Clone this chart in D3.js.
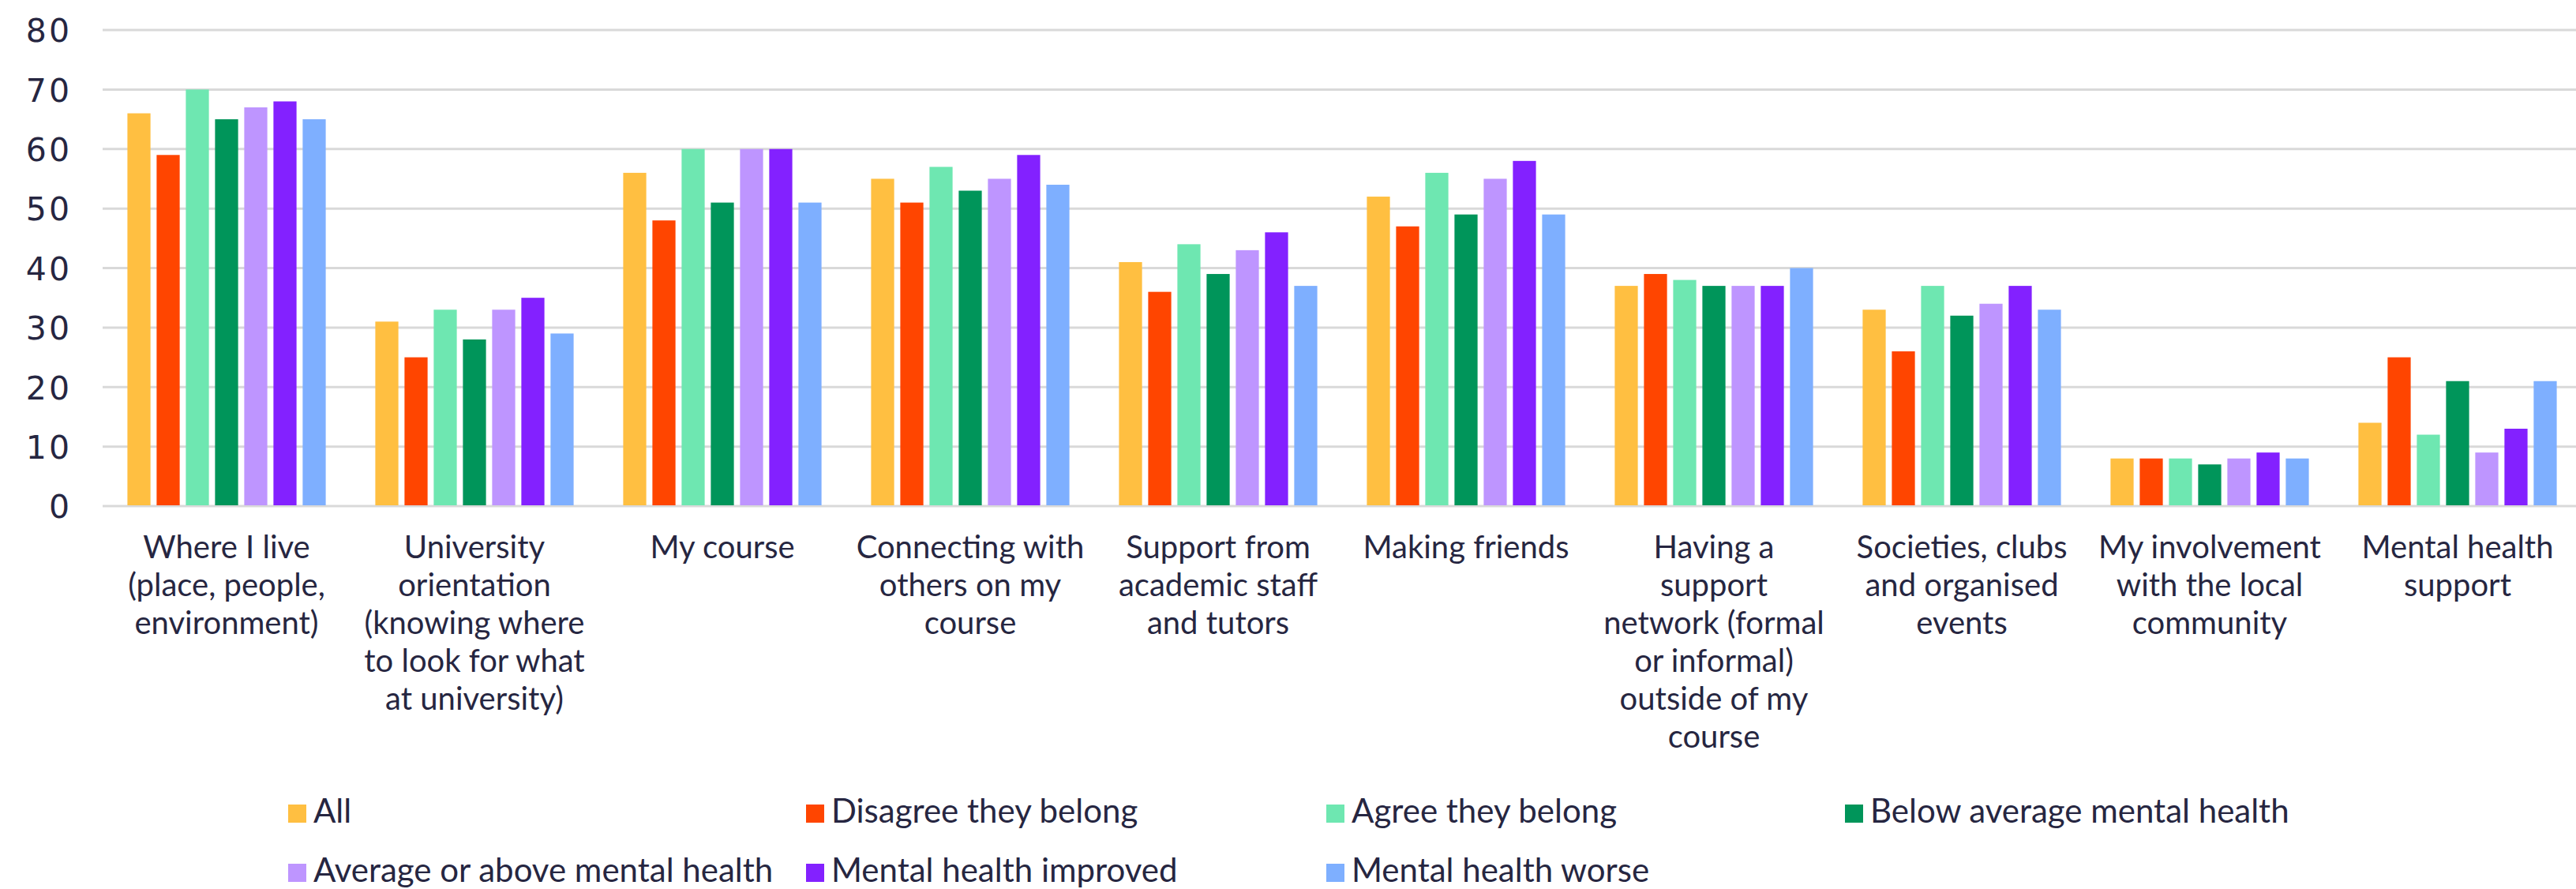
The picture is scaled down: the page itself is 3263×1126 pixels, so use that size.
<!DOCTYPE html>
<html>
<head>
<meta charset="utf-8">
<script src="https://cdn.jsdelivr.net/npm/d3@7"></script>
<style>
  html, body { margin: 0; padding: 0; background: #ffffff; }
  svg { display: block; }
</style>
</head>
<body>
<svg id="chart" width="3263" height="1126"></svg>
<script>
// ---------- DATA ----------
const categories = [
  "Where I live (place, people, environment)",
  "University orientation (knowing where to look for what at university)",
  "My course",
  "Connecting with others on my course",
  "Support from academic staff and tutors",
  "Making friends",
  "Having a support network (formal or informal) outside of my course",
  "Societies, clubs and organised events",
  "My involvement with the local community",
  "Mental health support"
];
const categoryLines = [
  ["Where I live", "(place, people,", "environment)"],
  ["University", "orientation", "(knowing where", "to look for what", "at university)"],
  ["My course"],
  ["Connecting with", "others on my", "course"],
  ["Support from", "academic staff", "and tutors"],
  ["Making friends"],
  ["Having a", "support", "network (formal", "or informal)", "outside of my", "course"],
  ["Societies, clubs", "and organised", "events"],
  ["My involvement", "with the local", "community"],
  ["Mental health", "support"]
];
const seriesNames = [
  "All",
  "Disagree they belong",
  "Agree they belong",
  "Below average mental health",
  "Average or above mental health",
  "Mental health improved",
  "Mental health worse"
];
const seriesColors = ["#FFBF41", "#FF4500", "#6EE7B1", "#00955A", "#BE95FF", "#8321FF", "#7EAFFF"];
const valuesAll       = [66, 31, 56, 55, 41, 52, 37, 33, 8, 14];
const valuesDisagree  = [59, 25, 48, 51, 36, 47, 39, 26, 8, 25];
const valuesAgree     = [70, 33, 60, 57, 44, 56, 38, 37, 8, 12];
const valuesBelowMH   = [65, 28, 51, 53, 39, 49, 37, 32, 7, 21];
const valuesAboveMH   = [67, 33, 60, 55, 43, 55, 37, 34, 8, 9];
const valuesImproved  = [68, 35, 60, 59, 46, 58, 37, 37, 9, 13];
const valuesWorse     = [65, 29, 51, 54, 37, 49, 40, 33, 8, 21];
const seriesValues = [valuesAll, valuesDisagree, valuesAgree, valuesBelowMH, valuesAboveMH, valuesImproved, valuesWorse];
const yTicks = [0, 10, 20, 30, 40, 50, 60, 70, 80];

// ---------- LAYOUT ----------
const W = 3263, H = 1126;
const plotLeft = 130, plotRight = 3270, yZero = 641, yTop = 38;
const textColor = "#262641";
const labelFont = "Lato, 'Noto Sans', sans-serif";

const svg = d3.select("#chart");

const x = d3.scaleBand().domain(categories).range([plotLeft, plotRight])
  .paddingInner(0.2).paddingOuter(0.1);
const xs = d3.scaleBand().domain(seriesNames).range([0, x.bandwidth()])
  .paddingInner(0.21).paddingOuter(0);
const y = d3.scaleLinear().domain([0, 80]).range([yZero, yTop]);

// gridlines
const yAxis = d3.axisLeft(y).tickValues(yTicks).tickSize(0).tickPadding(0);
const gGrid = svg.append("g");
gGrid.selectAll("line").data(yTicks).join("line")
  .attr("x1", plotLeft).attr("x2", W)
  .attr("y1", d => y(d)).attr("y2", d => y(d))
  .attr("stroke", "#d9d9d9").attr("stroke-width", 3);

// y axis labels
const gY = svg.append("g").attr("transform", "translate(91,0)").call(yAxis);
gY.select(".domain").remove();
gY.selectAll("text")
  .attr("x", 0)
  .attr("dy", "0.36em")
  .attr("fill", textColor)
  .style("font-family", "'DejaVu Sans', sans-serif")
  .style("font-size", "41px")
  .style("letter-spacing", "3px")
  .attr("text-anchor", "end");

// bars
const rows = [];
categories.forEach((c, ci) => {
  seriesNames.forEach((s, si) => rows.push({cat: c, series: s, value: seriesValues[si][ci], color: seriesColors[si]}));
});
svg.append("g").selectAll("rect").data(rows).join("rect")
  .attr("x", d => x(d.cat) + xs(d.series))
  .attr("width", xs.bandwidth())
  .attr("y", d => y(d.value))
  .attr("height", d => y(0) - y(d.value) - 1)
  .attr("fill", d => d.color);

// category labels
const gX = svg.append("g");
categories.forEach((c, ci) => {
  const cx = x(c) + x.bandwidth() / 2;
  const t = gX.append("text")
    .attr("x", cx).attr("y", 707)
    .attr("text-anchor", "middle")
    .attr("fill", textColor)
    .style("font-family", labelFont)
    .style("font-size", "40px");
  categoryLines[ci].forEach((ln, li) => {
    t.append("tspan").attr("x", cx).attr("y", 707 + li * 48).text(ln);
  });
});

// legend
const legendCols = [365, 1021, 1680, 2337];
const legendRows = [1042, 1117];
const gL = svg.append("g");
seriesNames.forEach((s, i) => {
  const col = i % 4, row = Math.floor(i / 4);
  const lx = legendCols[col], ly = legendRows[row];
  gL.append("rect").attr("x", lx).attr("y", ly - 23).attr("width", 23).attr("height", 23)
    .attr("fill", seriesColors[i]);
  gL.append("text").attr("x", lx + 32).attr("y", ly)
    .attr("fill", textColor)
    .style("font-family", labelFont)
    .style("font-size", "42px")
    .text(s);
});
</script>
</body>
</html>
